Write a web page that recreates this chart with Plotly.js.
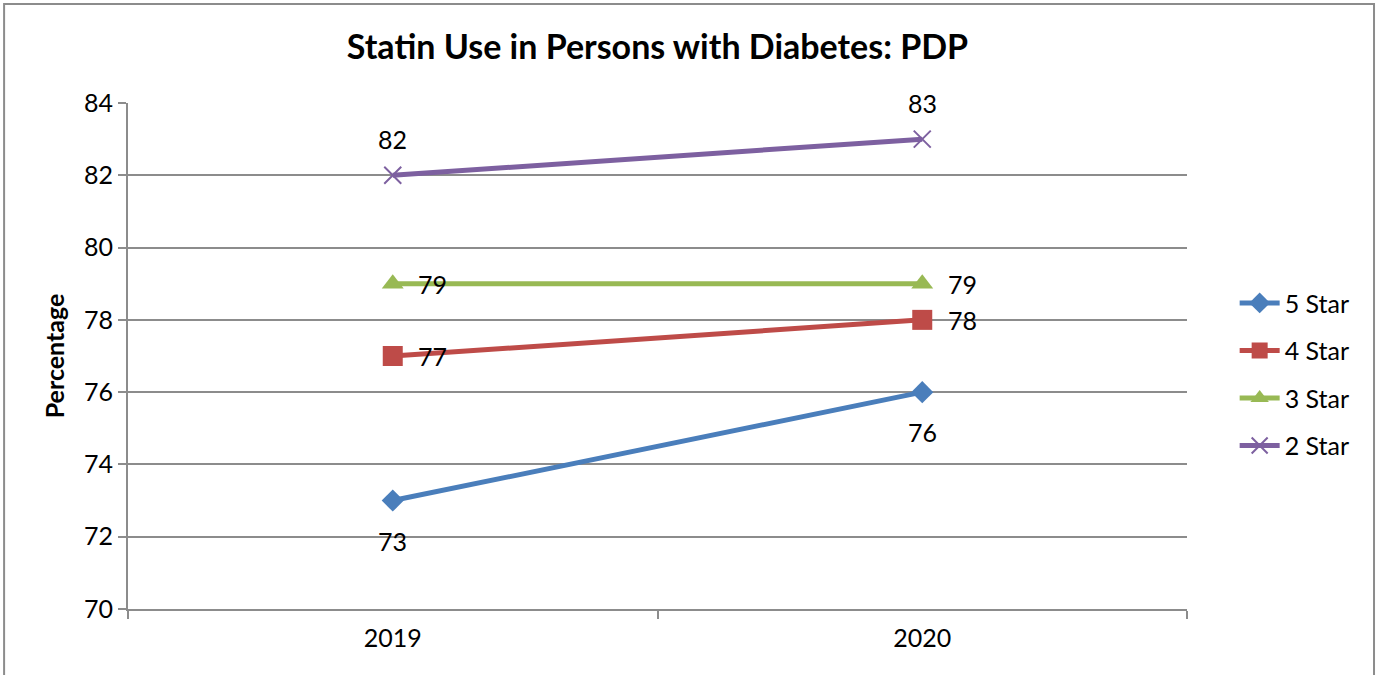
<!DOCTYPE html>
<html>
<head>
<meta charset="utf-8">
<script src="https://cdn.plot.ly/plotly-3.0.1.min.js"></script>
<style>
html, body { margin: 0; padding: 0; background: #fff; }
#chart { width: 1377px; height: 675px; }
</style>
</head>
<body>
<div id="chart"></div>
<script>
const years = ['2019', '2020'];
const seriesNames = ['5 Star', '4 Star', '3 Star', '2 Star'];
const star5 = [73, 76];
const star4 = [77, 78];
const star3 = [79, 79];
const star2 = [82, 83];
const yTicks = [70, 72, 74, 76, 78, 80, 82, 84];

const FONT = 'Lato, "Open Sans", sans-serif';
const FS = 25;
const colors = ['#4A7EBB', '#BE4B48', '#98B954', '#7D60A0'];
const symbols = ['diamond', 'square', 'triangle-up', 'x-thin-open'];
const msizes = [17, 20, 19, 17];
const values = [star5, star4, star3, star2];

const traces = values.map((v, i) => ({
  type: 'scatter',
  mode: 'lines+markers',
  name: seriesNames[i],
  legendgroup: 'g' + i,
  x: years,
  y: v,
  line: { color: colors[i], width: 5 },
  marker: { symbol: symbols[i], size: msizes[i], color: colors[i],
            line: { color: colors[i], width: i === 3 ? 2 : 0 } },
  hoverinfo: 'x+y+name'
}));

// data label placement per series: [xshift, yshift]
const labelShift = [[0, -40], [40, 0], [40, 0], [0, 36]];
const annotations = [];
values.forEach((v, i) => {
  v.forEach((val, j) => {
    annotations.push({
      x: years.indexOf(years[j]), y: val, xref: 'x', yref: 'y',
      text: String(val), showarrow: false,
      xshift: labelShift[i][0], yshift: labelShift[i][1],
      font: { family: FONT, size: FS, color: '#000' }
    });
  });
});

const layout = {
  width: 1377, height: 675,
  margin: { l: 128, r: 190, t: 103, b: 66 },
  paper_bgcolor: '#fff', plot_bgcolor: '#fff',
  font: { family: FONT, size: FS, color: '#000' },
  title: { text: '<b>Statin Use in Persons with Diabetes: PDP</b>',
           x: 0.5, xref: 'paper', y: 0.93, yanchor: 'middle',
           font: { family: FONT, size: 34, color: '#000' } },
  xaxis: {
    type: 'category', range: [-0.5, 1.5],
    tickson: 'boundaries', ticks: 'outside', ticklen: 8, tickwidth: 2, tickcolor: '#8c8c8c',
    showgrid: false, showline: true, linecolor: '#8c8c8c', linewidth: 2,
    zeroline: false, tickfont: { family: FONT, size: FS }, ticklabelstandoff: 6
  },
  yaxis: {
    range: [70, 84], tickvals: yTicks, ticktext: yTicks.map(String),
    ticks: 'outside', ticklen: 8, tickwidth: 2, tickcolor: '#8c8c8c',
    showgrid: true, gridcolor: '#8c8c8c', gridwidth: 2,
    showline: true, linecolor: '#8c8c8c', linewidth: 2, zeroline: false,
    tickfont: { family: FONT, size: FS },
    title: { text: '<b>Percentage</b>', font: { family: FONT, size: FS }, standoff: 12 }
  },
  legend: {
    x: 1.045, xanchor: 'left', y: 0.464, yanchor: 'middle',
    font: { family: FONT, size: FS }, traceorder: 'grouped', tracegroupgap: 12, itemwidth: 40,
    bgcolor: 'rgba(0,0,0,0)'
  },
  annotations: annotations,
  shapes: [{
    type: 'rect', xref: 'paper', yref: 'paper',
    x0: -0.117, x1: 1.1766, y0: -0.2, y1: 1.1957,
    line: { color: '#8c8c8c', width: 2 }, fillcolor: 'rgba(0,0,0,0)', layer: 'below'
  }],
  showlegend: true
};

Plotly.newPlot('chart', traces, layout, { displayModeBar: false, staticPlot: true });
</script>
</body>
</html>
